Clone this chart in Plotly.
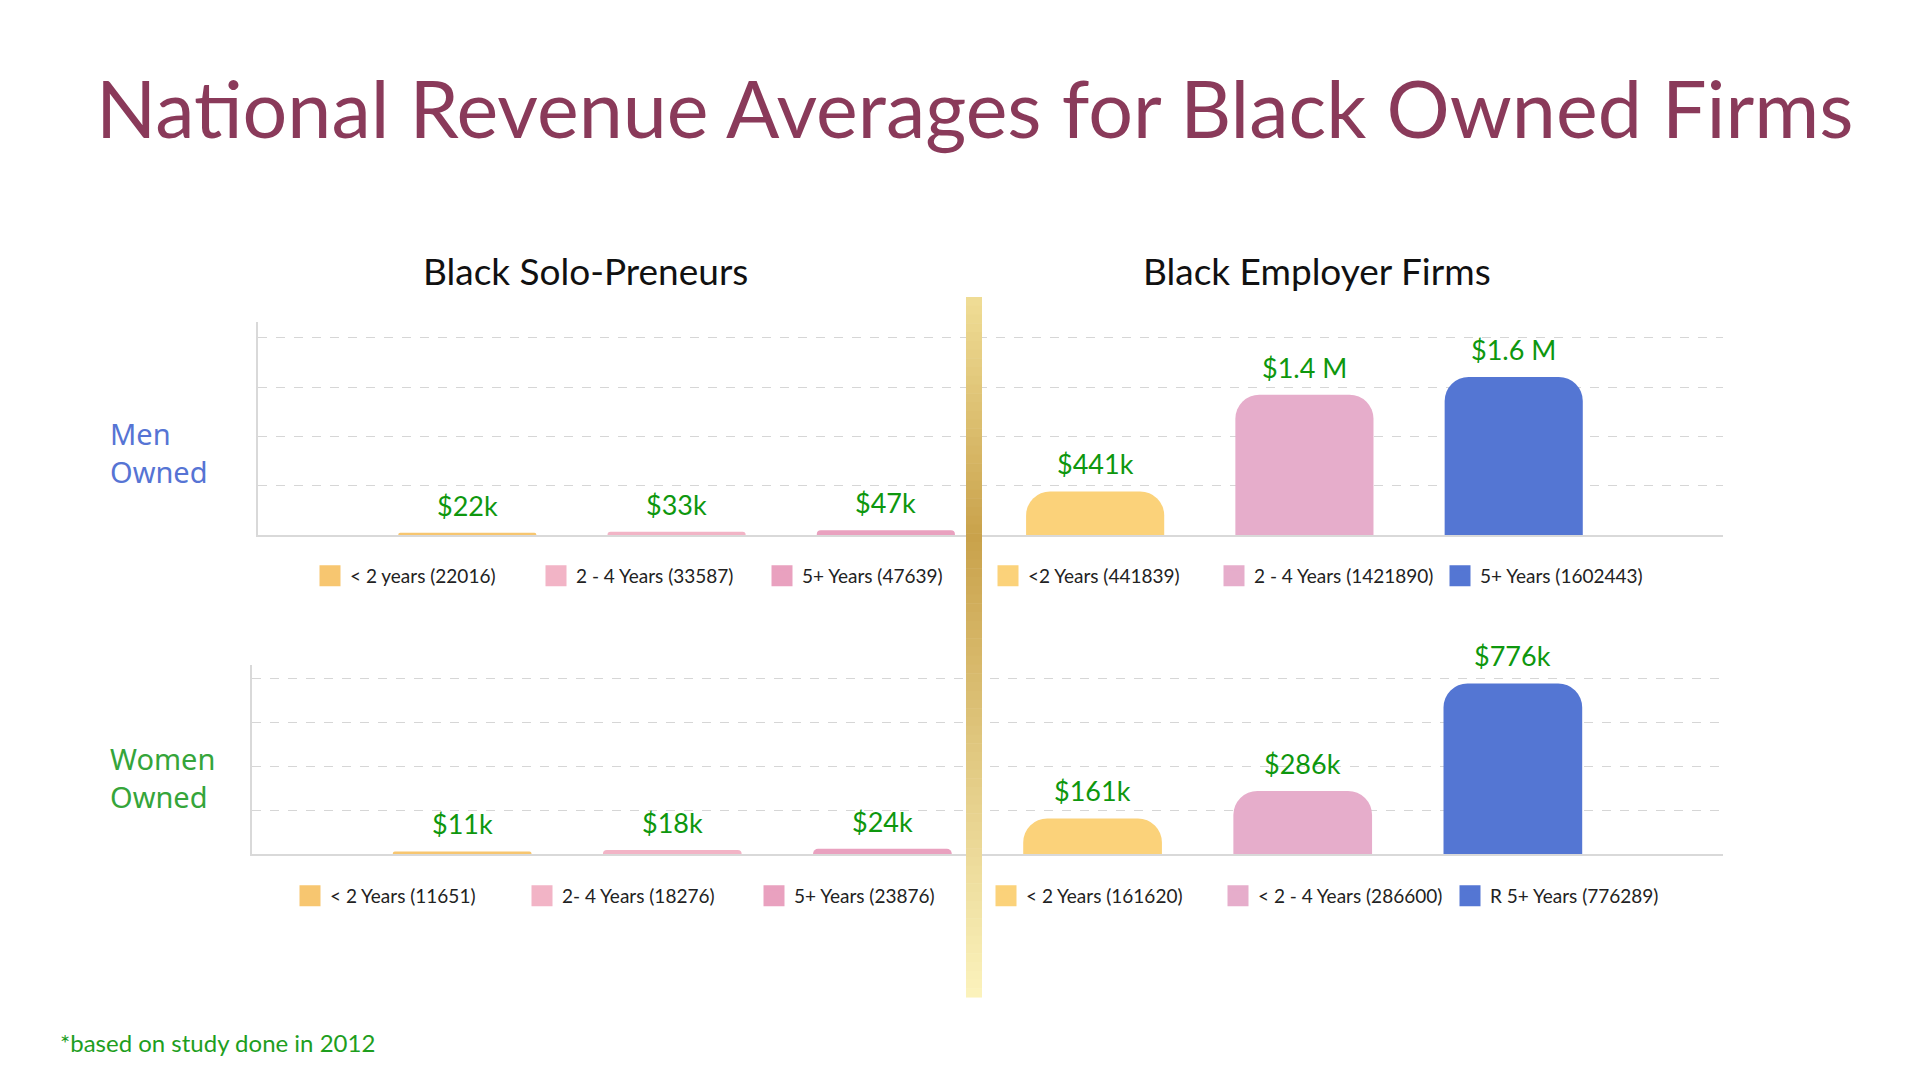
import plotly.graph_objects as go
from plotly.colors import sample_colorscale

# categories on each row: 3 solo-preneur bars then 3 employer-firm bars
cats = ["solo_lt2", "solo_2to4", "solo_5plus", "emp_lt2", "emp_2to4", "emp_5plus"]

men_values = [22016, 33587, 47639, 441839, 1421890, 1602443]
men_labels = ["$22k", "$33k", "$47k", "$441k", "$1.4 M", "$1.6 M"]
men_legend = ["< 2 years (22016)", "2 - 4 Years (33587)", "5+ Years (47639)",
              "<2 Years (441839)", "2 - 4 Years (1421890)", "5+ Years (1602443)"]

women_values = [11651, 18276, 23876, 161620, 286600, 776289]
women_labels = ["$11k", "$18k", "$24k", "$161k", "$286k", "$776k"]
women_legend = ["< 2 Years (11651)", "2- 4 Years (18276)", "5+ Years (23876)",
                "< 2 Years (161620)", "< 2 - 4 Years (286600)", "R 5+ Years (776289)"]

bar_colors = ["#F7C670", "#F2B4C6", "#E9A1BF", "#FBD27A", "#E6ADCB", "#5476D3"]

FONT = "Lato"
LABEL_GREEN = "#0E970E"
W, H = 1920, 1080
OFF = 8  # page body margin of the exported html


def px(x):
    return (x - OFF) / W


def py(y):
    return 1 - (y - OFF) / H


fig = go.Figure()


def add_row(values, labels, legend_names, xa, ya, legend_id):
    for i in range(len(cats)):
        fig.add_trace(go.Bar(
            x=[cats[i]], y=[values[i]], width=0.66,
            marker=dict(color=bar_colors[i], cornerradius=24, line=dict(width=0)),
            xaxis=xa, yaxis=ya, showlegend=False, hoverinfo="skip",
        ))
        # legend entry with a bigger square than the bar default
        fig.add_trace(go.Scatter(
            x=[None], y=[None], mode="markers", name=legend_names[i],
            marker=dict(symbol="square", size=16, color=bar_colors[i],
                        line=dict(width=5, color=bar_colors[i])),
            xaxis=xa, yaxis=ya, legend=legend_id,
        ))
        fig.add_annotation(
            x=cats[i], y=values[i], xref=xa, yref=ya,
            text=labels[i], showarrow=False, yanchor="bottom", yshift=9,
            font=dict(family=FONT, size=27, color=LABEL_GREEN),
        )


add_row(men_values, men_labels, men_legend, "x", "y", "legend")
add_row(women_values, women_labels, women_legend, "x2", "y2", "legend2")

axis_line = "#D9D9D9"
common_x = dict(type="category", categoryorder="array", categoryarray=cats,
                range=[-1, 6], showticklabels=False, ticks="", showgrid=False,
                showline=True, linecolor=axis_line, linewidth=2, zeroline=False)
common_y = dict(showticklabels=False, ticks="", showgrid=True, gridcolor="#D6D6D6",
                griddash="dash", gridwidth=1, zeroline=False,
                showline=True, linecolor=axis_line, linewidth=2)
legend_font = dict(family=FONT, size=19, color="#222222")

fig.update_layout(
    width=W, height=H,
    margin=dict(l=0, r=0, t=0, b=0),
    paper_bgcolor="white", plot_bgcolor="white",
    barmode="overlay",
    font=dict(family=FONT, color="#222222"),
    xaxis=dict(domain=[px(258), px(1723)], **common_x),
    yaxis=dict(domain=[py(535), py(322)], range=[0, 2160000], dtick=500000, **common_y),
    xaxis2=dict(domain=[px(252), px(1723)], anchor="y2", **common_x),
    yaxis2=dict(domain=[py(854), py(665)], range=[0, 860000], dtick=200000, anchor="x2",
                **common_y),
    legend=dict(orientation="h", x=px(310), y=py(576), xanchor="left", yanchor="middle",
                entrywidth=181, entrywidthmode="pixels", itemwidth=30,
                font=legend_font, bgcolor="rgba(0,0,0,0)"),
    legend2=dict(orientation="h", x=px(290), y=py(896), xanchor="left", yanchor="middle",
                 entrywidth=187, entrywidthmode="pixels", itemwidth=30,
                 font=legend_font, bgcolor="rgba(0,0,0,0)"),
)

# headings and side labels
texts = [
    (975, 108, "center", "National Revenue Averages for Black Owned Firms", FONT, 79, "#8A3A5A"),
    (585, 271, "center", "Black Solo-Preneurs", FONT, 37, "#111111"),
    (1317, 271, "center", "Black Employer Firms", FONT, 37, "#111111"),
    (108, 453, "left", "Men<br>Owned", "Noto Sans", 29, "#5674D4"),
    (108, 778, "left", "Women<br>Owned", "Noto Sans", 29, "#35A53A"),
    (58, 1042, "left", "*based on study done in 2012", FONT, 24, "#1E9E1E"),
]
for x, y, anchor, txt, fam, size, color in texts:
    fig.add_annotation(x=px(x), y=py(y), xref="paper", yref="paper", showarrow=False,
                       xanchor=anchor, yanchor="middle", align="left", text=txt,
                       font=dict(family=fam, size=size, color=color))

# gold divider with vertical gradient
gold_scale = [[0, "#EFDC95"], [0.34, "#C9A24B"], [1, "#FBF2BB"]]
top, bottom = py(297), py(997)
n = 80
cols = sample_colorscale(gold_scale, [k / (n - 1) for k in range(n)])
step = (top - bottom) / n
for k in range(n):
    y1 = top - k * step
    fig.add_shape(type="rect", xref="paper", yref="paper", x0=px(966), x1=px(982),
                  y0=y1 - step - 0.0005, y1=y1, fillcolor=cols[k], line=dict(width=0),
                  layer="above")

fig.write_html("out.html")
